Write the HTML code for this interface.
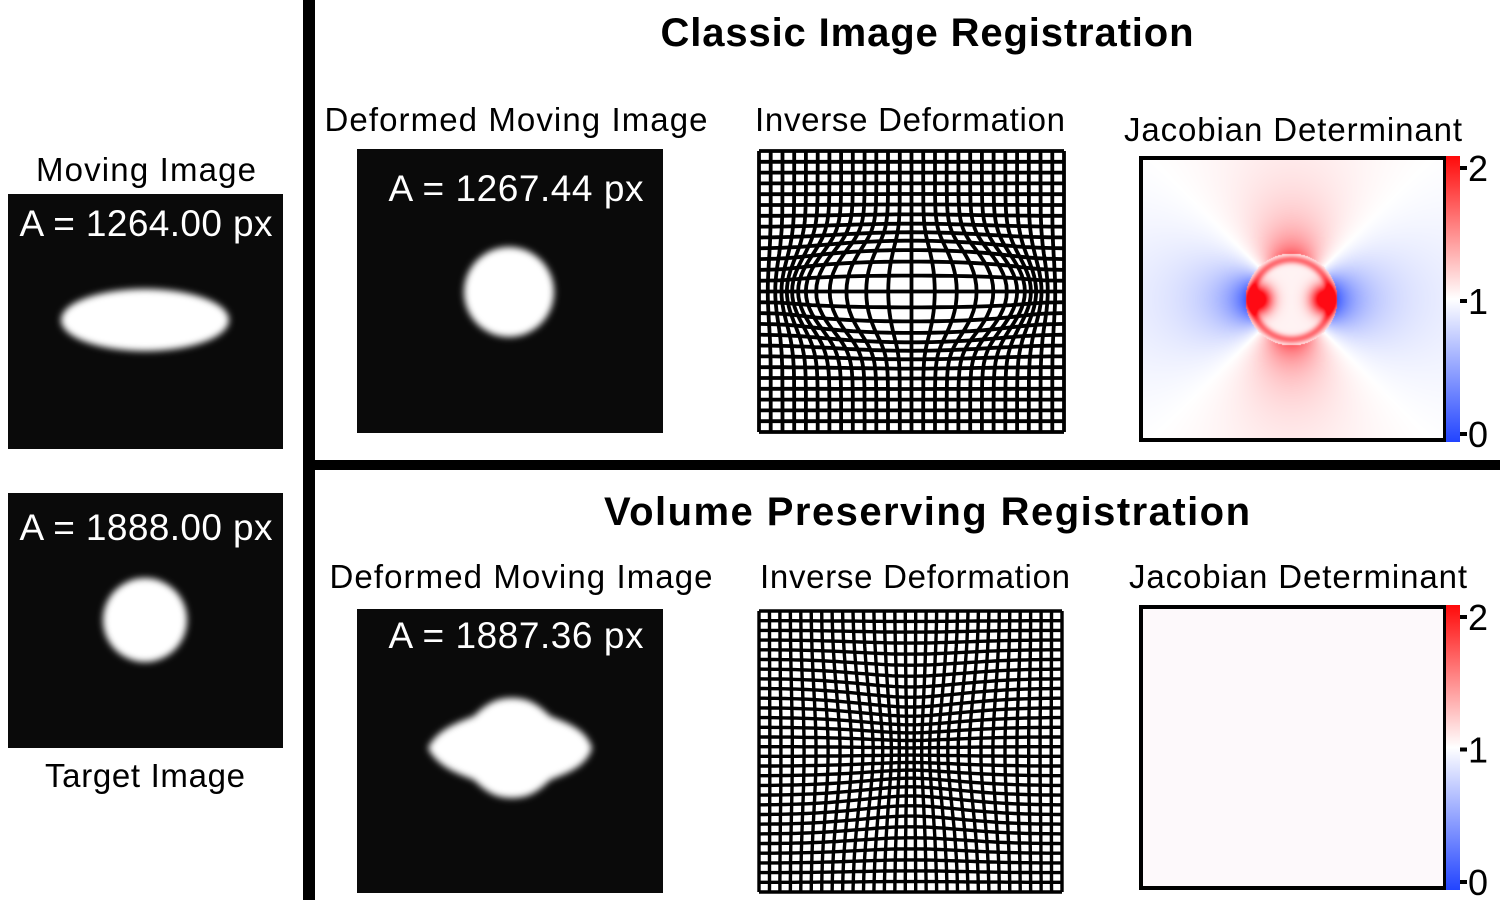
<!DOCTYPE html>
<html><head><meta charset="utf-8"><style>
html,body{margin:0;padding:0;background:#fff;}
svg{display:block;font-family:"Liberation Sans",sans-serif;}
</style></head><body>
<svg id="fig" width="1500" height="900" viewBox="0 0 1500 900">
<defs>
<filter id="blur" x="-20%" y="-20%" width="140%" height="140%"><feGaussianBlur stdDeviation="3.5"/></filter>
<linearGradient id="cbar" x1="0" y1="1" x2="0" y2="0">
<stop offset="0" stop-color="#2244ff"/><stop offset="0.5" stop-color="#ffffff"/><stop offset="1" stop-color="#ff0a0a"/>
</linearGradient>
</defs>

<text x="146" y="181" font-size="33" text-anchor="middle" textLength="220">Moving Image</text>
<rect x="8" y="194" width="275" height="255" fill="#0a0a0a"/>
<text x="146" y="236" font-size="37" fill="#fff" text-anchor="middle" textLength="253">A = 1264.00 px</text>
<ellipse cx="145" cy="320" rx="84" ry="31" fill="#fff" filter="url(#blur)"/>

<rect x="8" y="493" width="275" height="255" fill="#0a0a0a"/>
<text x="146" y="540" font-size="37" fill="#fff" text-anchor="middle" textLength="253">A = 1888.00 px</text>
<circle cx="145" cy="620" r="42" fill="#fff" filter="url(#blur)"/>
<text x="145" y="787" font-size="33" text-anchor="middle" textLength="200">Target Image</text>

<rect x="303" y="0" width="12" height="900" fill="#000"/>
<rect x="315" y="460" width="1185" height="10" fill="#000"/>

<text x="927" y="46" font-size="40" font-weight="bold" text-anchor="middle" textLength="533">Classic Image Registration</text>
<text x="516" y="131" font-size="33" text-anchor="middle" textLength="383">Deformed Moving Image</text>
<rect x="357" y="149" width="306" height="284" fill="#0a0a0a"/>
<text x="516" y="201" font-size="37" fill="#fff" text-anchor="middle" textLength="255">A = 1267.44 px</text>
<circle cx="509" cy="292" r="45" fill="#fff" filter="url(#blur)"/>
<text x="910" y="131" font-size="33" text-anchor="middle" textLength="310">Inverse Deformation</text>
<g id="gridTop"></g>
<text x="1293" y="141" font-size="33" text-anchor="middle" textLength="338">Jacobian Determinant</text>
<foreignObject x="1141" y="158" width="304" height="282"><canvas xmlns="http://www.w3.org/1999/xhtml" id="jacTop" width="304" height="282" style="display:block"></canvas></foreignObject>
<rect x="1141" y="158" width="304" height="282" fill="none" stroke="#000" stroke-width="4"/>
<g id="cbTop"></g>

<text x="927" y="525" font-size="40" font-weight="bold" text-anchor="middle" textLength="646">Volume Preserving Registration</text>
<text x="521" y="588" font-size="33" text-anchor="middle" textLength="383">Deformed Moving Image</text>
<rect x="357" y="609" width="306" height="284" fill="#0a0a0a"/>
<text x="516" y="648" font-size="37" fill="#fff" text-anchor="middle" textLength="255">A = 1887.36 px</text>
<path d="M428,748 C438,728 460,722 474,716 C488,702 498,698 512,698 C526,698 536,702 550,716 C564,722 586,728 592,748 C586,768 564,774 550,780 C536,794 526,798 512,798 C498,798 488,794 474,780 C460,774 438,768 428,748 Z" fill="#fff" filter="url(#blur)"/>
<text x="915" y="588" font-size="33" text-anchor="middle" textLength="310">Inverse Deformation</text>
<g id="gridBot"></g>
<text x="1298" y="588" font-size="33" text-anchor="middle" textLength="338">Jacobian Determinant</text>
<rect x="1141" y="607" width="304" height="281" fill="#fdf9fb" stroke="#000" stroke-width="4"/>
<g id="cbBot"></g>
</svg>
<script>
const cbTicks = ["0","1","2"];
const cbValues = [0,1,2];
const NS = "http://www.w3.org/2000/svg";

function colorbar(gid, top, bottom) {
  const g = document.getElementById(gid);
  const r = document.createElementNS(NS, "rect");
  r.setAttribute("x", 1446); r.setAttribute("y", top); r.setAttribute("width", 14); r.setAttribute("height", bottom - top);
  r.setAttribute("fill", "url(#cbar)");
  
  
  g.appendChild(r);
  const yv = v => bottom - 8 - (v / 2) * (bottom - top - 20);
  cbValues.forEach((v, i) => {
    const y = yv(v);
    const t = document.createElementNS(NS, "rect");
    t.setAttribute("x", 1460); t.setAttribute("y", y - 2); t.setAttribute("width", 7); t.setAttribute("height", 4);
    
    
    g.appendChild(t);
    const tx = document.createElementNS(NS, "text");
    tx.setAttribute("x", 1468); tx.setAttribute("y", y + 13); tx.setAttribute("font-size", "36");
    tx.textContent = cbTicks[i];
    
    
    g.appendChild(tx);
  });
}
colorbar("cbTop", 156, 442);
colorbar("cbBot", 605, 890);

function grid(gid, x0, y0, w, h, n, sw, warp) {
  const g = document.getElementById(gid);
  const cx = x0 + w / 2, cy = y0 + h / 2;
  const lines = [];
  const taper = (dx, dy) => {
    const tx = 1 - Math.pow(Math.abs(dx) / (w / 2), 4), ty = 1 - Math.pow(Math.abs(dy) / (h / 2), 4);
    return Math.max(0, tx) * Math.max(0, ty);
  };
  for (let i = 0; i < n; i++) {
    const p = i / (n - 1);
    let d1 = "", d2 = "";
    for (let k = 0; k <= 60; k++) {
      const q = k / 60;
      let dx = x0 + p * w - cx, dy = y0 + q * h - cy;
      let a = warp(dx, dy, taper(dx, dy));
      d1 += (k ? "L" : "M") + (cx + a[0]).toFixed(1) + "," + (cy + a[1]).toFixed(1);
      dx = x0 + q * w - cx; dy = y0 + p * h - cy;
      a = warp(dx, dy, taper(dx, dy));
      d2 += (k ? "L" : "M") + (cx + a[0]).toFixed(1) + "," + (cy + a[1]).toFixed(1);
    }
    lines.push(d1, d2);
  }
  lines.forEach(d => {
    const pth = document.createElementNS(NS, "path");
    pth.setAttribute("d", d); pth.setAttribute("fill", "none");
    pth.setAttribute("stroke", "#000"); pth.setAttribute("stroke-width", sw);
    
    
    g.appendChild(pth);
  });
}
grid("gridTop", 759, 151, 305, 281, 27, 3.8, (dx, dy, t) => {
  const g = Math.exp(-(dx * dx / (2 * 62 * 62) + dy * dy / (2 * 30 * 30)));
  return [dx + 1.0 * dx * g * t, dy + 0.5 * dy * g * t];
});
grid("gridBot", 759, 611, 303, 281, 30, 3.4, (dx, dy, t) => {
  const g = Math.exp(-(dx * dx / (2 * 55 * 55) + dy * dy / (2 * 60 * 60)));
  return [dx - 0.3 * dx * g * t, dy - 0.25 * dy * g * t];
});

(function jac() {
  const c = document.getElementById("jacTop"), ctx = c.getContext("2d");
  const W = c.width, H = c.height, img = ctx.createImageData(W, H);
  const cx = 150, cy = 141, R = 46;
  for (let y = 0; y < H; y++) for (let x = 0; x < W; x++) {
    const dx = x - cx, dy = y - cy, r = Math.hypot(dx, dy) + 1e-6;
    let v;
    if (r > R) {
      const c2 = (dx * dx - dy * dy) / (r * r);
      v = 1 - (c2 > 0 ? 0.85 : 0.65) * c2 * Math.pow(R / r, 1.8);
    } else {
      v = 1.05 + 1.3 * Math.exp(-((Math.abs(dx) - 34) ** 2 + dy * dy) / 200)
        + 0.55 * Math.exp(-((r - 40) ** 2) / 18);
    }
    v = Math.max(0, Math.min(2, v));
    let rr, gg, bb;
    if (v >= 1) { const t = v - 1; rr = 255; gg = 255 - 245 * t; bb = 255 - 235 * t; }
    else { const t = 1 - v; rr = 255 - 221 * t; gg = 255 - 187 * t; bb = 255; }
    const i = (y * W + x) * 4;
    img.data[i] = rr; img.data[i + 1] = gg; img.data[i + 2] = bb; img.data[i + 3] = 255;
  }
  ctx.putImageData(img, 0, 0);
})();
</script>
</body></html>
